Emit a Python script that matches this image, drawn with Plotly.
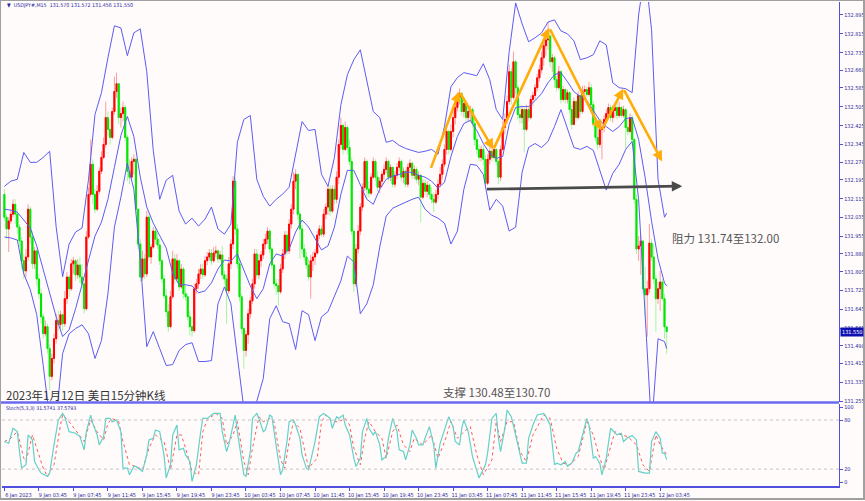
import plotly.graph_objects as go

first_open = 132.133
close = [132.036,131.986,132.020,132.049,132.091,132.049,131.994,131.935,131.851,131.808,
131.867,132.070,131.952,131.838,131.893,131.774,131.711,131.613,131.541,131.571,
131.478,131.360,131.436,131.520,131.597,131.580,131.622,131.584,131.690,131.782,
131.732,131.838,131.851,131.791,131.833,131.782,131.753,131.647,131.952,132.133,
132.261,132.133,132.070,132.146,132.231,132.290,132.345,132.459,132.409,132.375,
132.485,132.570,132.603,132.459,132.476,132.502,132.375,132.231,132.206,132.273,
132.282,132.070,131.922,131.782,131.859,131.795,132.036,131.867,131.909,131.977,
131.943,131.918,131.851,131.774,131.702,131.635,131.571,131.698,131.859,131.774,
131.851,131.740,131.816,131.711,131.698,131.613,131.571,131.554,131.732,131.753,
131.795,131.816,131.791,131.851,131.867,131.884,131.851,131.884,131.893,131.859,
131.876,131.791,131.774,131.723,131.838,131.922,132.189,131.986,131.838,131.698,
131.563,131.470,131.537,131.626,131.681,131.753,131.880,131.791,131.851,131.876,
131.922,131.943,131.977,131.901,131.833,131.753,131.745,131.719,131.816,131.880,
131.960,131.893,132.007,132.070,132.189,132.218,132.049,131.986,131.901,131.867,
131.833,131.782,131.851,131.867,131.884,131.960,131.986,131.964,132.049,132.079,
132.155,132.062,132.155,132.112,132.206,132.345,132.426,132.324,132.417,132.332,
132.273,131.977,131.753,131.901,131.977,132.079,132.163,132.273,132.155,132.138,
132.206,132.273,132.206,132.163,132.189,132.218,132.239,132.273,132.206,132.248,
132.176,132.214,132.248,132.273,132.206,132.231,132.176,132.248,132.265,132.214,
132.239,132.197,132.214,132.121,132.180,132.146,132.172,132.133,132.112,132.100,
132.133,132.176,132.218,132.261,132.324,132.400,132.324,132.400,132.459,132.502,
132.544,132.561,132.485,132.519,132.459,132.485,132.493,132.434,132.366,132.324,
132.290,132.324,132.282,132.180,132.282,132.316,132.290,132.324,132.273,132.206,
132.324,132.417,132.451,132.527,132.654,132.544,132.696,132.586,132.472,132.459,
132.493,132.409,132.493,132.459,132.536,132.553,132.586,132.628,132.662,132.713,
132.764,132.789,132.806,132.696,132.713,132.620,132.586,132.654,132.536,132.578,
132.536,132.565,132.493,132.430,132.527,132.459,132.553,132.485,132.570,132.578,
132.557,132.586,132.514,132.430,132.375,132.345,132.409,132.417,132.451,132.476,
132.502,132.459,132.489,132.502,132.468,132.502,132.468,132.493,132.417,132.400,
132.459,132.366,132.112,131.901,131.914,131.935,131.732,131.706,131.732,131.926,
131.867,131.774,131.690,131.732,131.761,131.690,131.570,131.550]
high = [132.155,132.049,132.036,132.070,132.112,132.112,132.070,132.007,131.952,131.880,
131.901,132.091,132.082,131.977,131.909,131.901,131.795,131.732,131.626,131.597,
131.584,131.499,131.457,131.541,131.626,131.639,131.639,131.626,131.723,131.803,
131.791,131.859,131.867,131.859,131.859,131.867,131.838,131.774,131.977,132.163,
132.366,132.282,132.155,132.172,132.248,132.316,132.375,132.527,132.485,132.451,
132.502,132.633,132.650,132.599,132.502,132.527,132.514,132.387,132.282,132.290,
132.303,132.290,132.070,131.943,131.893,131.880,132.062,132.049,131.922,131.994,
131.994,131.969,131.943,131.859,131.791,131.732,131.668,131.723,131.893,131.880,
131.880,131.859,131.838,131.825,131.753,131.711,131.639,131.613,131.753,131.774,
131.816,131.838,131.838,131.871,131.888,131.901,131.901,131.909,131.914,131.901,
131.893,131.914,131.808,131.795,131.867,131.943,132.210,132.206,132.007,131.859,
131.711,131.571,131.554,131.647,131.698,131.774,131.901,131.901,131.880,131.893,
131.943,131.964,131.994,131.986,131.909,131.838,131.774,131.774,131.838,131.901,
131.977,131.977,132.028,132.091,132.227,132.239,132.218,132.062,132.003,131.922,
131.888,131.859,131.876,131.888,131.901,131.977,132.003,132.003,132.070,132.095,
132.172,132.172,132.172,132.172,132.231,132.366,132.459,132.434,132.443,132.426,
132.366,132.290,131.977,131.922,132.003,132.095,132.180,132.290,132.282,132.189,
132.222,132.290,132.282,132.231,132.206,132.231,132.261,132.290,132.282,132.261,
132.248,132.231,132.265,132.290,132.282,132.248,132.239,132.265,132.282,132.273,
132.256,132.248,132.231,132.218,132.197,132.197,132.189,132.180,132.163,132.142,
132.150,132.197,132.248,132.282,132.345,132.430,132.409,132.430,132.485,132.519,
132.565,132.582,132.565,132.536,132.523,132.502,132.510,132.502,132.459,132.387,
132.345,132.341,132.341,132.303,132.303,132.332,132.332,132.341,132.324,132.282,
132.341,132.443,132.476,132.553,132.684,132.671,132.739,132.705,132.599,132.514,
132.510,132.502,132.514,132.510,132.553,132.570,132.603,132.645,132.684,132.739,
132.789,132.832,132.865,132.810,132.730,132.722,132.637,132.679,132.662,132.595,
132.586,132.578,132.570,132.514,132.544,132.536,132.570,132.557,132.595,132.595,
132.591,132.612,132.603,132.527,132.459,132.417,132.426,132.434,132.468,132.493,
132.519,132.514,132.510,132.519,132.519,132.527,132.510,132.510,132.502,132.451,
132.476,132.472,132.375,132.134,131.956,131.960,131.922,131.825,131.766,132.007,
131.943,131.922,131.791,131.761,131.808,131.774,131.711,131.572]
low = [132.020,131.943,131.888,132.007,132.036,132.007,131.965,131.909,131.816,131.774,
131.782,131.851,131.922,131.816,131.816,131.745,131.690,131.584,131.520,131.529,
131.457,131.301,131.343,131.415,131.499,131.554,131.563,131.554,131.571,131.668,
131.698,131.723,131.795,131.766,131.774,131.757,131.732,131.626,131.639,131.943,
132.121,132.091,132.053,132.062,132.133,132.218,132.282,132.332,132.379,132.345,
132.366,132.472,132.544,132.430,132.417,132.443,132.358,132.189,132.176,132.197,
132.218,132.049,131.901,131.761,131.766,131.774,131.782,131.851,131.838,131.901,
131.922,131.901,131.833,131.757,131.690,131.613,131.550,131.563,131.690,131.753,
131.761,131.723,131.732,131.690,131.681,131.597,131.533,131.529,131.546,131.711,
131.732,131.774,131.774,131.782,131.833,131.851,131.833,131.842,131.867,131.842,
131.851,131.774,131.753,131.584,131.711,131.816,131.901,131.960,131.816,131.677,
131.541,131.393,131.444,131.499,131.605,131.668,131.732,131.774,131.774,131.825,
131.859,131.901,131.922,131.884,131.816,131.732,131.707,131.660,131.711,131.799,
131.859,131.876,131.880,131.986,132.049,132.155,132.028,131.859,131.880,131.851,
131.816,131.766,131.690,131.808,131.833,131.876,131.943,131.952,131.952,132.028,
132.045,132.041,132.053,132.091,132.095,132.176,132.324,132.303,132.316,132.303,
132.256,131.960,131.719,131.740,131.880,131.960,132.062,132.146,132.112,132.121,
132.129,132.197,132.189,132.146,132.138,132.163,132.197,132.222,132.189,132.189,
132.163,132.163,132.197,132.231,132.189,132.180,132.163,132.163,132.231,132.197,
132.197,132.180,132.172,132.015,132.112,132.129,132.121,132.112,132.095,132.058,
132.091,132.112,132.163,132.197,132.248,132.303,132.303,132.316,132.375,132.430,
132.485,132.514,132.468,132.459,132.443,132.443,132.443,132.417,132.341,132.303,
132.273,132.273,132.256,132.155,132.172,132.261,132.273,132.282,132.256,132.176,
132.189,132.316,132.387,132.430,132.514,132.514,132.536,132.557,132.451,132.434,
132.434,132.311,132.400,132.443,132.451,132.510,132.536,132.570,132.612,132.646,
132.679,132.722,132.747,132.671,132.654,132.586,132.570,132.578,132.519,132.527,
132.519,132.519,132.476,132.409,132.426,132.443,132.451,132.468,132.476,132.544,
132.544,132.548,132.502,132.417,132.358,132.324,132.332,132.282,132.396,132.434,
132.464,132.443,132.438,132.459,132.451,132.459,132.459,132.459,132.324,132.383,
132.392,132.345,132.091,131.880,131.851,131.791,131.711,131.613,131.529,131.715,
131.851,131.753,131.550,131.668,131.639,131.681,131.520,131.456]

# Bollinger band readings, one every third bar (plus the last bar)
band_upper = [132.167,132.189,132.197,132.311,132.269,132.269,132.290,132.316,131.994,131.783,
131.922,131.973,131.990,132.197,132.472,132.565,132.713,132.849,132.840,132.722,
132.819,132.836,132.654,132.320,132.112,132.193,132.214,132.062,132.007,132.032,
131.998,132.028,132.079,131.986,131.964,132.007,132.354,132.451,132.468,132.197,
132.125,132.083,132.112,132.134,132.163,132.303,132.442,132.404,132.409,132.218,
132.167,132.290,132.514,132.641,132.705,132.747,132.620,132.485,132.459,132.354,
132.362,132.341,132.328,132.320,132.311,132.316,132.324,132.303,132.421,132.590,
132.629,132.650,132.645,132.637,132.688,132.620,132.493,132.451,132.739,132.946,
132.857,132.781,132.798,132.819,132.865,132.874,132.827,132.815,132.785,132.705,
132.713,132.726,132.785,132.768,132.607,132.586,132.582,132.565,132.895,133.085,
132.832,132.197,132.036,132.053]
band_mid = [132.070,132.066,132.057,132.024,131.990,131.914,131.816,131.719,131.613,131.529,
131.558,131.647,131.753,131.850,131.956,132.015,132.112,132.248,132.383,132.464,
132.379,132.206,132.079,132.011,131.956,131.905,131.799,131.749,131.749,131.744,
131.715,131.723,131.757,131.816,131.854,131.850,131.880,131.816,131.744,131.690,
131.732,131.838,131.880,131.871,131.901,131.973,132.024,131.994,131.948,131.897,
131.914,131.994,132.134,132.235,132.235,132.176,132.112,132.091,132.155,132.197,
132.210,132.218,132.227,132.227,132.214,132.206,132.189,132.159,132.184,132.294,
132.379,132.434,132.447,132.404,132.349,132.307,132.286,132.294,132.430,132.502,
132.506,132.506,132.531,132.561,132.607,132.641,132.650,132.612,132.569,132.548,
132.531,132.489,132.447,132.421,132.400,132.421,132.455,132.459,132.366,132.206,
132.019,131.859,131.757,131.744]
band_lower = [131.952,131.948,131.939,131.795,131.728,131.622,131.406,131.182,131.182,131.457,
131.541,131.563,131.579,131.541,131.436,131.512,131.711,131.994,132.121,132.265,
132.155,131.850,131.486,131.550,131.478,131.406,131.410,131.470,131.495,131.503,
131.423,131.423,131.427,131.668,131.740,131.668,131.444,131.224,131.190,131.254,
131.351,131.605,131.660,131.592,131.584,131.474,131.639,131.622,131.512,131.613,
131.635,131.698,131.766,131.871,131.846,131.626,131.668,131.749,131.909,132.041,
132.074,132.087,132.100,132.112,132.121,132.070,132.045,132.032,132.011,131.922,
131.977,132.155,132.261,132.256,132.218,132.066,132.112,132.083,131.977,131.994,
132.227,132.332,132.349,132.332,132.358,132.421,132.493,132.409,132.332,132.324,
132.337,132.320,132.231,132.151,132.222,132.261,132.324,132.358,132.112,131.613,
131.140,131.520,131.508,131.478]

# Stochastic(5,3,3) readings: (bar, value)
stoch_main = [(0,53.7),(2,51.6),(4,69.9),(6,65.8),(7,41.5),(8,21.2),(10,25.3),(11,61.8),(13,55.7),(14,29.3),
(16,19.2),(17,15.1),(20,11.1),(21,15.1),(23,49.6),(25,80),(27,88.1),(28,84.1),(30,65.8),(33,63.8),
(35,59.7),(37,43.5),(38,65.8),(40,86.1),(41,75.9),(43,61.8),(44,49.6),(46,59.7),(47,82.0),(49,82.0),
(50,78.0),(52,80),(54,65.8),(55,21.2),(57,21.2),(58,13.1),(60,23.3),(61,23.3),(63,19.2),(64,17.2),
(66,37.4),(67,55.7),(69,57.7),(70,67.8),(72,65.8),(74,37.4),(75,9.1),(77,25.3),(78,61.8),(80,73.9),
(81,43.5),(83,45.5),(84,37.4),(86,29.3),(87,5.0),(89,25.3),(91,65.8),(92,82.0),(94,82.0),(97,88.1),
(100,88.1),(101,65.8),(103,41.5),(104,49.6),(106,73.9),(107,86.1),(108,65.8),(111,13.1),(112,11.1),(114,41.5),
(115,82.0),(117,88.1),(118,82.0),(120,65.8),(121,67.8),(123,86.1),(124,84.1),(126,49.6),(128,13.1),(129,19.2),
(131,53.7),(132,78.0),(134,80),(135,73.9),(137,57.7),(138,37.4),(140,21.2),(141,19.2),(144,53.7),(146,84.1),
(148,88.1),(149,86.1),(151,82.0),(152,69.9),(154,84.1),(155,82.0),(157,86.1),(158,73.9),(160,61.8),(162,33.4),
(163,23.3),(165,33.4),(166,65.8),(168,82.0),(169,69.9),(171,61.8),(172,65.8),(174,49.6),(175,31.4),(177,35.4),
(178,57.7),(180,82.0),(182,65.8),(183,43.5),(185,41.5),(186,31.4),(188,49.6),(189,67.8),(191,57.7),(192,49.6),
(194,49.6),(195,57.7),(197,71.9),(199,49.6),(200,21.2),(202,51.6),(204,67.8),(206,84.1),(208,71.9),(209,53.7),
(211,49.6),(212,69.9),(213,80),(215,65.8),(217,35.4),(218,27.3),(220,9.1),(223,25.3),(224,39.5),(226,82.0),
(228,88.1),(229,57.7),(230,41.5),(232,69.9),(233,92.2),(235,84.1),(237,61.8),(239,41.5),(240,27.3),(242,27.3),
(243,57.7),(245,73.9),(247,86.1),(250,88.1),(251,84.1),(253,73.9),(254,49.6),(255,25.3),(256,27.3),(258,25.3),
(260,29.3),(261,23.3),(263,27.3),(265,39.5),(266,41.5),(268,61.8),(270,82.0),(271,73.9),(273,33.4),(274,35.4),
(276,27.3),(277,13.1),(279,33.4),(281,69.9),(283,63.8),(284,61.8),(286,63.8),(287,53.7),(289,58.5),(291,61.0),
(293,55.7),(294,17.2),(297,15.1),(299,15.1),(300,53.7),(302,65.8),(304,57.7),(305,39.5),(306,39.5),(307,31.6)]
stoch_signal = [(0,53.7),(3,57.7),(6,65.8),(9,33.4),(10,29.3),(13,61.8),(15,45.5),(18,21.2),(20,11.1),(23,25.3),
(26,73.9),(27,86.1),(30,78.0),(35,59.7),(37,53.7),(40,80),(43,65.8),(46,55.7),(48,75.9),(50,82.0),
(53,78.0),(55,53.7),(58,25.3),(61,23.3),(64,19.2),(67,45.5),(70,61.8),(74,53.7),(77,19.2),(80,61.8),
(82,61.8),(84,45.5),(87,17.2),(90,13.1),(92,65.8),(94,80),(98,88.1),(101,82.0),(103,49.6),(106,61.8),
(108,78.0),(111,29.3),(113,13.1),(115,45.5),(118,84.1),(120,78.0),(123,82.0),(125,78.0),(128,31.4),(130,21.2),
(132,53.7),(134,78.0),(137,69.9),(139,45.5),(141,21.2),(145,33.4),(147,78.0),(149,86.1),(152,78.0),(155,78.0),
(158,82.0),(160,73.9),(162,45.5),(165,25.3),(167,57.7),(169,78.0),(172,65.8),(175,57.7),(177,33.4),(180,65.8),
(182,73.9),(185,49.6),(188,41.5),(190,57.7),(194,49.6),(198,61.8),(201,33.4),(204,53.0),(207,78.0),(210,57.7),
(213,65.8),(216,71.9),(219,37.4),(222,13.1),(226,31.4),(228,78.0),(230,53.7),(233,78.0),(236,78.0),(239,41.5),
(242,29.3),(245,61.8),(250,86.1),(253,82.0),(256,45.5),(259,27.3),(262,25.3),(266,35.4),(270,78.0),(273,61.8),
(276,33.4),(278,19.2),(281,45.5),(283,65.8),(286,61.8),(289,59.7),(293,49.6),(296,25.3),(299,17.2),(302,61.8),
(304,49.6),(306,41.5),(307,37.6)]

price_ticks = [132.895,132.815,132.735,132.660,132.585,132.505,132.425,132.345,132.270,132.195,
132.115,132.035,131.955,131.880,131.805,131.725,131.645,131.565,131.490,131.415,131.335,131.255]
time_ticks = [0,16,32,48,64,80,96,112,128,144,160,176,192,208,224,240,256,272,288,304]
time_labels = ["6 Jan 2023","9 Jan 03:45","9 Jan 07:45","9 Jan 11:45","9 Jan 15:45","9 Jan 19:45",
"9 Jan 23:45","10 Jan 03:45","10 Jan 07:45","10 Jan 11:45","10 Jan 15:45","10 Jan 19:45",
"10 Jan 23:45","11 Jan 03:45","11 Jan 07:45","11 Jan 11:45","11 Jan 15:45","11 Jan 19:45",
"11 Jan 23:45","12 Jan 03:45"]

n = len(close)
idx = list(range(n))
openp = [first_open] + close[:-1]
band_idx = list(range(0, n - 1, 3)) + [n - 1]
assert len(band_idx) == len(band_upper) == len(band_mid) == len(band_lower)

body_hi = [max(o, c) for o, c in zip(openp, close)]
body_lo = [min(o, c) for o, c in zip(openp, close)]

fig = go.Figure()
fig.add_trace(go.Candlestick(x=idx, open=openp, high=high, low=low, close=close,
    increasing=dict(line=dict(color="#ff9c9c", width=1), fillcolor="#ff9c9c"),
    decreasing=dict(line=dict(color="#a4f5a4", width=1), fillcolor="#a4f5a4"),
    whiskerwidth=0, showlegend=False, hoverinfo="skip", xaxis="x", yaxis="y"))
fig.add_trace(go.Candlestick(x=idx, open=openp, high=body_hi, low=body_lo, close=close,
    increasing=dict(line=dict(color="#ff0000", width=1), fillcolor="#ff0000"),
    decreasing=dict(line=dict(color="#00e600", width=1), fillcolor="#00e600"),
    whiskerwidth=0, showlegend=False, hoverinfo="skip", xaxis="x", yaxis="y"))
for band in (band_upper, band_mid, band_lower):
    fig.add_trace(go.Scatter(x=band_idx, y=band, mode="lines", line=dict(color="#5c5cf2", width=1),
                             showlegend=False, hoverinfo="skip", xaxis="x", yaxis="y"))
fig.add_trace(go.Scatter(x=[p[0] for p in stoch_signal], y=[p[1] for p in stoch_signal], mode="lines",
                         line=dict(color="#ff5a5a", width=1, dash="dot"), showlegend=False,
                         hoverinfo="skip", xaxis="x2", yaxis="y2"))
fig.add_trace(go.Scatter(x=[p[0] for p in stoch_main], y=[p[1] for p in stoch_main], mode="lines",
                         line=dict(color="#62d2c8", width=1.2), showlegend=False,
                         hoverinfo="skip", xaxis="x2", yaxis="y2"))

small = "Liberation Sans Narrow, DejaVu Sans Condensed, Liberation Sans"
axis_font = dict(family=small, size=5.5, color="#2a2aa0")
xr = [-1.11, 386.9]
fig.update_layout(
    width=865, height=501, margin=dict(l=0, r=0, t=0, b=0),
    paper_bgcolor="#fffbfb", plot_bgcolor="#fffbfb",
    xaxis=dict(domain=[0.0023, 0.9711], range=xr, showticklabels=False, showgrid=False,
               zeroline=False, rangeslider=dict(visible=False), anchor="y", fixedrange=True),
    yaxis=dict(domain=[0.1936, 0.996], range=[131.2495, 132.950], side="right", anchor="x",
               tickvals=price_ticks, ticktext=[f"{v:.3f}" for v in price_ticks],
               ticks="outside", ticklen=3, tickcolor="#5050e0", tickfont=axis_font,
               showgrid=False, zeroline=False, showline=True, linecolor="#5050e0", linewidth=1),
    xaxis2=dict(domain=[0.0023, 0.9711], range=xr, anchor="y2", tickvals=time_ticks,
                ticktext=time_labels, ticks="outside", ticklen=3, tickcolor="#5050e0",
                tickfont=axis_font, tickangle=0, ticklabelshift=14, showgrid=False, zeroline=False,
                showline=True, linecolor="#5050e0", linewidth=1.5),
    yaxis2=dict(domain=[0.0259, 0.1896], range=[-0.7, 99.1], side="right", anchor="x2",
                tickvals=[3.8, 20, 80, 95.4], ticktext=["0", "20", "80", "100"], ticks="outside",
                ticklen=3, tickcolor="#5050e0", tickfont=axis_font, showgrid=False, zeroline=False,
                showline=True, linecolor="#5050e0", linewidth=1),
)
for lvl in (20, 80):
    fig.add_shape(type="line", xref="x2", yref="y2", x0=xr[0], x1=xr[1], y0=lvl, y1=lvl,
                  line=dict(color="#c4c4c4", width=1, dash="dot"))
fig.add_shape(type="line", xref="paper", yref="paper", x0=0, x1=0.9711, y0=1-404/501, y1=1-404/501,
              line=dict(color="#6a6af0", width=2.5))
fig.add_shape(type="rect", xref="paper", yref="paper", x0=0, x1=1, y0=0, y1=1,
              line=dict(color="#a0a0a0", width=2))

orange = [(197.5, 132.239), (210.9, 132.570), (226.7, 132.324), (252.6, 132.840),
          (276.7, 132.404), (286.9, 132.582), (304.9, 132.273)]
for (x0, y0), (x1, y1) in zip(orange[:-1], orange[1:]):
    fig.add_annotation(x=x1, y=y1, ax=x0, ay=y0, xref="x", yref="y", axref="x", ayref="y",
                       text="", showarrow=True, arrowhead=2, arrowsize=0.8, arrowwidth=2.6,
                       arrowcolor="#ffad0a")
fig.add_annotation(x=314.2, y=132.168, ax=223, ay=132.155, xref="x", yref="y", axref="x", ayref="y",
                   text="", showarrow=True, arrowhead=2, arrowsize=0.8, arrowwidth=2.6,
                   arrowcolor="#4a4a4a")

cn = "Noto Sans CJK SC"
fig.add_annotation(xref="paper", yref="paper", x=4/865, y=1-397/501, xanchor="left", yanchor="middle",
                   text="2023年1月12日 美日15分钟K线", showarrow=False,
                   font=dict(family=cn, size=11.5, color="#333333"))
fig.add_annotation(xref="paper", yref="paper", x=442/865, y=1-394/501, xanchor="left", yanchor="middle",
                   text="支撑 130.48至130.70", showarrow=False, font=dict(family=cn, size=11.5, color="#555555"))
fig.add_annotation(xref="paper", yref="paper", x=671/865, y=1-239/501, xanchor="left", yanchor="middle",
                   text="阻力 131.74至132.00", showarrow=False, font=dict(family=cn, size=11.5, color="#555555"))
fig.add_annotation(xref="paper", yref="paper", x=5/865, y=1-6/501, xanchor="left", yanchor="middle",
                   text="▼  USDJPY#,M15  131.570 131.572 131.456 131.550", showarrow=False,
                   font=dict(family=small, size=5.3, color="#2a2aa0"))
fig.add_annotation(xref="paper", yref="paper", x=4/865, y=1-410/501, xanchor="left", yanchor="middle",
                   text="Stoch(5,3,3) 31.5741 37.5793", showarrow=False,
                   font=dict(family=small, size=5.2, color="#2a2aa0"))
fig.add_annotation(xref="paper", yref="y", x=841/865, y=131.550, xanchor="left", yanchor="middle",
                   text="131.550", showarrow=False, bgcolor="#1010b0", borderpad=1,
                   font=dict(family=small, size=5.5, color="#ffffff"))

fig.write_html("out.html", config={"displayModeBar": False},
               post_script="document.body.style.margin='0';document.body.style.overflow='hidden';")
